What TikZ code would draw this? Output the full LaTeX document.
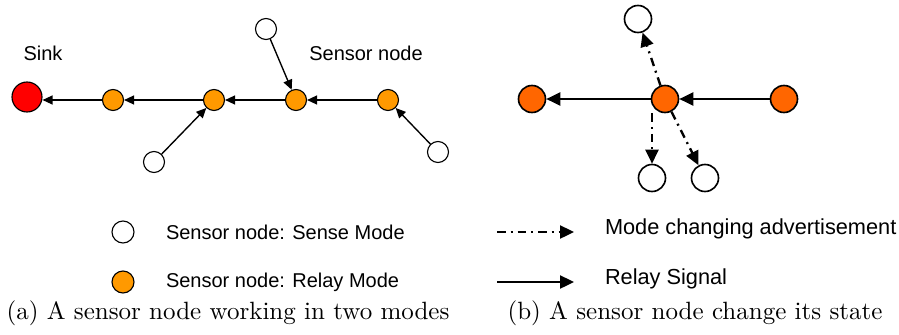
\documentclass[tikz,border=0pt]{standalone}
\usepackage{fontspec}
\usepackage{xcolor}
\usetikzlibrary{arrows.meta,positioning}
\newfontfamily\arialfont{Liberation Sans}
\definecolor{relayorange}{RGB}{255,153,0}
\definecolor{stateorange}{RGB}{255,102,0}

\begin{document}
\begin{tikzpicture}[x=0.4pt, y=-0.4pt,
  sense/.style={circle, draw, fill=white, minimum size=8.4pt, inner sep=0pt, line width=0.45pt},
  relay/.style={sense, fill=relayorange},
  sinknode/.style={sense, fill=red, minimum size=12pt},
  bignode/.style={circle, draw, inner sep=0pt, minimum size=10.8pt, line width=0.65pt},
  lbl/.style={font=\arialfont\fontsize{8}{10}\selectfont, inner sep=1pt},
  biglbl/.style={font=\arialfont\fontsize{8.7}{10}\selectfont, inner sep=1pt},
  subcap/.style={font=\fontsize{10}{12}\selectfont},
  arr/.style={-{Triangle[length=4pt,width=3.6pt]}, line width=0.55pt},
  bigarr/.style={-{Triangle[length=5.6pt,width=5.2pt]}, line width=0.95pt},
  adv/.style={bigarr, dash pattern=on 3.4pt off 2pt on 0.8pt off 2pt}
]
  \useasboundingbox (0,0) rectangle (899,334);

  % (a) relay chain towards the sink
  \node[sinknode] (sink) at (27,97) {};
  \node[relay] (r1) at (113,100) {};
  \node[relay] (r2) at (214,100) {};
  \node[relay] (r3) at (296,100) {};
  \node[relay] (r4) at (388,100) {};
  \node[sense] (s1) at (266,29) {};
  \node[sense] (s2) at (154,162) {};
  \node[sense] (s3) at (438,152) {};
  \node[lbl] (sinklbl) at (43,53) {Sink};
  \node[lbl] (nodelbl) at (366,53) {Sensor node};
  \draw[arr] (r1) -- (sink.east |- r1);
  \draw[arr] (r2) -- (r1);
  \draw[arr] (r3) -- (r2);
  \draw[arr] (r4) -- (r3);
  \draw[arr] (s1) -- (r3);
  \draw[arr] (s2) -- (r2);
  \draw[arr] (s3) -- (r4);

  % (b) node switching its state
  \node[bignode, fill=stateorange] (left) at (532,99) {};
  \node[bignode, fill=stateorange] (mid) at (665,99) {};
  \node[bignode, fill=stateorange] (right) at (784,99) {};
  \node[bignode, fill=white] (top) at (638,19) {};
  \node[bignode, fill=white] (low1) at (652,178) {};
  \node[bignode, fill=white] (low2) at (705,178) {};
  \draw[bigarr] (mid) -- (left);
  \draw[bigarr] (right) -- (mid);
  \draw[adv] (mid) -- (top);
  \draw[adv] (mid.south -| low1) -- (low1);
  \draw[adv] (mid) -- (low2);

  % legend
  \node[sense, minimum size=8.8pt] (keysense) at (123,232) {};
  \node[relay, minimum size=8.8pt] (keyrelay) at (123,282) {};
  \node[lbl, anchor=west] (senselbl) at (163,232) {Sensor node: Sense Mode};
  \node[lbl, anchor=west] (relaylbl) at (163,282) {Sensor node: Relay Mode};
  \coordinate (advA) at (497,232);
  \coordinate (advB) at (574,232);
  \coordinate (sigA) at (497,282);
  \coordinate (sigB) at (574,282);
  \draw[adv] (advA) -- (advB);
  \draw[bigarr] (sigA) -- (sigB);
  \node[biglbl, anchor=west] (advlbl) at (602,229) {Mode changing advertisement};
  \node[biglbl, anchor=west] (siglbl) at (602,279) {Relay Signal};

  % sub-captions
  \node[subcap] (capa) at (228,313) {(a) A sensor node working in two modes};
  \node[subcap] (capb) at (695,313) {(b) A sensor node change its state};
\end{tikzpicture}
\end{document}
